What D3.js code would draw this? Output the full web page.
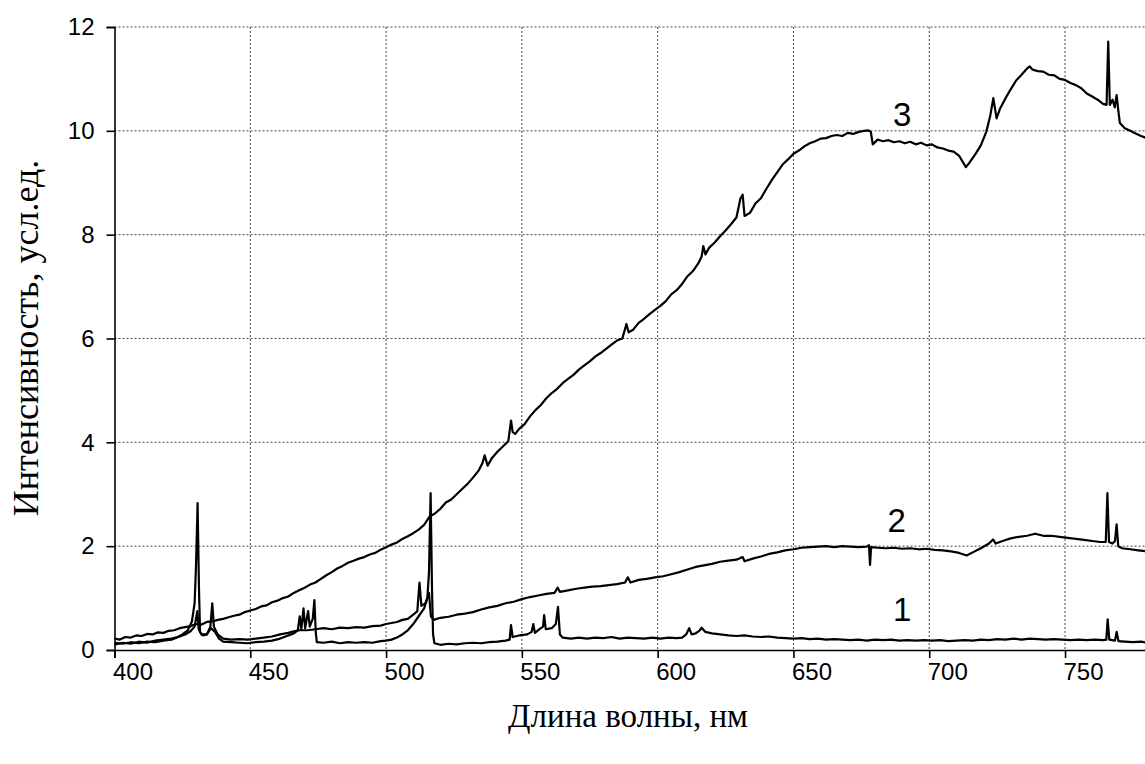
<!DOCTYPE html>
<html>
<head>
<meta charset="utf-8">
<script src="https://cdn.jsdelivr.net/npm/d3@7"></script>
<style>
  body { margin: 0; background: #fff; }
  .tick text { font-family: "Liberation Sans", Arial, sans-serif; font-size: 24px; fill: #000; }
  .grid line { stroke: #444; stroke-width: 1; stroke-dasharray: 2,2; }
  .axis-title { font-family: "Liberation Serif", "Times New Roman", serif; fill: #000; }
  .curve-label { font-family: "Liberation Sans", Arial, sans-serif; font-size: 33px; fill: #000; }
</style>
</head>
<body>
<svg id="chart" width="1145" height="764"></svg>
<script>
// spectra: [wavelength nm, intensity]
var curve1 = [
  [400,0.14],[403,0.12],[406,0.15],[409,0.13],[412,0.16],[415,0.15],[418,0.18],[421,0.2],[423,0.24],[425,0.3],
  [427,0.38],[428.5,0.55],[429.5,0.9],[430,1.6],[430.6,2.83],[431.1,1.2],[431.5,0.35],[432.5,0.28],[434,0.3],[435.5,0.42],
  [437,0.35],[438.5,0.22],[440,0.16],[443,0.15],[446,0.14],[449,0.13],[452,0.15],[455,0.16],[458,0.18],[461,0.22],
  [464,0.28],[466,0.32],[467.5,0.38],[468.2,0.65],[468.8,0.4],[469.6,0.8],[470.2,0.42],[471.3,0.75],[471.9,0.45],[473,0.6],
  [473.6,0.96],[474.1,0.35],[474.5,0.15],[477,0.14],[480,0.16],[483,0.13],[486,0.15],[489,0.14],[492,0.15],[495,0.14],
  [498,0.17],[500,0.18],[502,0.2],[504,0.24],[506,0.3],[508,0.38],[510,0.5],[512,0.65],[514,0.8],[515.2,1.0],
  [515.8,1.5],[516.4,3.02],[516.9,1.2],[517.3,0.3],[517.8,0.13],[520,0.1],[523,0.12],[526,0.11],[529,0.13],[532,0.14],
  [535,0.13],[538,0.15],[541,0.16],[544,0.18],[545.5,0.2],[546,0.48],[546.6,0.25],[549,0.28],[552,0.3],[553.6,0.35],
  [554.2,0.5],[554.8,0.33],[556.5,0.4],[557.8,0.45],[558.2,0.67],[558.8,0.4],[561,0.42],[562.5,0.5],[563.3,0.83],[564,0.3],
  [565,0.24],[568,0.22],[571,0.24],[574,0.22],[577,0.24],[580,0.23],[583,0.25],[586,0.22],[589,0.24],[592,0.23],
  [595,0.22],[598,0.24],[601,0.22],[604,0.24],[607,0.23],[609,0.24],[610.5,0.3],[611.6,0.42],[612.5,0.3],[614,0.32],
  [615.5,0.38],[616.2,0.43],[617.5,0.35],[620,0.32],[623,0.3],[626,0.28],[629,0.27],[632,0.28],[635,0.26],[638,0.25],
  [641,0.26],[644,0.24],[647,0.23],[650,0.22],[653,0.23],[656,0.21],[659,0.22],[662,0.2],[665,0.21],[668,0.2],
  [671,0.19],[674,0.2],[677,0.18],[680,0.2],[683,0.19],[686,0.2],[689,0.18],[692,0.19],[695,0.18],[698,0.19],
  [701,0.18],[704,0.19],[707,0.17],[710,0.18],[713,0.19],[716,0.18],[719,0.2],[722,0.19],[725,0.21],[728,0.2],
  [731,0.22],[734,0.2],[737,0.22],[740,0.21],[743,0.2],[746,0.21],[749,0.2],[752,0.19],[755,0.2],[758,0.19],
  [761,0.2],[764,0.19],[765.2,0.2],[765.7,0.59],[766.3,0.2],[768.4,0.18],[769,0.35],[769.7,0.17],[772,0.16],[775,0.15],
  [778,0.16],[780,0.14]
];

var curve2 = [
  [400,0.1],[403,0.14],[406,0.12],[409,0.16],[412,0.14],[415,0.18],[418,0.2],[421,0.22],[424,0.26],[426,0.3],
  [428,0.36],[429.5,0.45],[430.5,0.75],[431,0.4],[432,0.3],[434,0.3],[435.3,0.45],[436,0.9],[436.6,0.45],[438,0.3],
  [440,0.22],[443,0.2],[446,0.21],[449,0.2],[452,0.22],[455,0.24],[458,0.26],[461,0.3],[464,0.33],[466,0.36],
  [468,0.38],[471,0.38],[474,0.4],[477,0.42],[480,0.4],[483,0.43],[486,0.42],[489,0.44],[492,0.43],[495,0.46],
  [498,0.47],[500,0.5],[502,0.52],[504,0.54],[506,0.58],[508,0.6],[510,0.68],[511.5,0.75],[512.3,1.3],[513,0.85],
  [514.5,0.9],[515.8,1.1],[516.5,0.65],[517.5,0.58],[520,0.62],[523,0.64],[526,0.68],[529,0.7],[532,0.73],[535,0.78],
  [538,0.82],[541,0.85],[544,0.9],[547,0.93],[550,0.98],[553,1.02],[556,1.05],[559,1.08],[562,1.1],[563.2,1.2],
  [564,1.12],[567,1.15],[570,1.18],[573,1.2],[576,1.22],[579,1.23],[582,1.25],[585,1.27],[588,1.3],[589,1.4],
  [590,1.3],[593,1.35],[596,1.37],[599,1.4],[602,1.42],[605,1.46],[608,1.5],[611,1.55],[614,1.6],[617,1.63],
  [620,1.66],[623,1.7],[626,1.72],[629,1.74],[631.3,1.79],[632,1.71],[635,1.76],[638,1.8],[641,1.85],[644,1.88],
  [647,1.92],[650,1.94],[653,1.97],[656,1.98],[659,1.99],[662,2.0],[665,1.98],[668,2.0],[671,1.99],[674,1.98],
  [677,1.99],[677.8,2.02],[678.2,1.64],[678.6,1.98],[681,1.97],[684,1.96],[687,1.97],[690,1.95],[693,1.96],[696,1.94],
  [699,1.95],[702,1.93],[705,1.92],[708,1.9],[711,1.87],[713.8,1.82],[716,1.88],[719,1.96],[722,2.05],[723.5,2.13],
  [724.5,2.05],[727,2.1],[730,2.15],[733,2.18],[736,2.2],[739,2.24],[742,2.2],[745,2.2],[748,2.18],[751,2.16],
  [754,2.14],[757,2.12],[760,2.1],[763,2.08],[765,2.08],[765.6,3.02],[766.2,2.08],[767.5,2.05],[768.4,2.1],[769,2.42],
  [769.6,2.0],[771,1.96],[774,1.94],[777,1.92],[780,1.9]
];

var curve3 = [
  [400,0.22],[402,0.2],[404,0.25],[406,0.24],[408,0.28],[410,0.27],[412,0.31],[414,0.3],[416,0.34],[418,0.33],
  [420,0.37],[422,0.38],[424,0.42],[426,0.44],[428,0.46],[430,0.5],[432,0.49],[434,0.54],[436,0.55],[438,0.58],
  [440,0.6],[442,0.63],[444,0.66],[446,0.68],[448,0.73],[450,0.76],[452,0.79],[454,0.84],[456,0.86],[458,0.92],
  [460,0.95],[462,1.0],[464,1.03],[466,1.1],[468,1.15],[470,1.2],[472,1.26],[474,1.3],[476,1.37],[478,1.44],
  [480,1.5],[482,1.57],[484,1.62],[486,1.68],[488,1.72],[490,1.76],[492,1.79],[494,1.84],[496,1.87],[498,1.93],
  [500,1.98],[502,2.03],[504,2.07],[506,2.14],[508,2.19],[510,2.25],[512,2.32],[514,2.41],[516,2.57],[518,2.63],
  [520,2.72],[522,2.84],[524,2.9],[526,3.0],[528,3.1],[530,3.2],[532,3.32],[534,3.45],[535.5,3.6],[536.3,3.75],
  [537.4,3.55],[539,3.7],[541,3.82],[543,3.92],[545,4.02],[546,4.42],[546.6,4.2],[547.5,4.16],[549,4.26],[551,4.35],
  [553,4.5],[555,4.62],[557,4.72],[559,4.85],[561,4.95],[563,5.03],[565,5.14],[567,5.22],[569,5.3],[571,5.4],
  [573,5.48],[575,5.56],[577,5.65],[579,5.72],[581,5.8],[583,5.88],[585,5.96],[587,6.0],[588.5,6.28],[589.3,6.12],
  [591,6.17],[593,6.3],[595,6.38],[597,6.47],[599,6.55],[601,6.63],[603,6.72],[605,6.85],[607,6.93],[609,7.05],
  [611,7.2],[613,7.3],[615,7.45],[616.2,7.58],[616.8,7.78],[617.6,7.62],[619,7.75],[621,7.85],[623,7.97],[625,8.08],
  [627,8.2],[629,8.33],[630.5,8.7],[631.3,8.77],[632,8.36],[634,8.42],[636,8.6],[638,8.7],[640,8.88],[642,9.05],
  [644,9.2],[646,9.35],[648,9.45],[650,9.56],[652,9.62],[654,9.7],[656,9.76],[658,9.8],[660,9.85],[662,9.86],
  [664,9.9],[666,9.92],[668,9.9],[670,9.96],[672,9.94],[674,9.98],[676,10.0],[677.5,10.01],[678.5,9.98],[679.2,9.74],
  [681,9.83],[683,9.8],[685,9.82],[687,9.78],[689,9.8],[691,9.76],[693,9.79],[695,9.74],[697,9.77],[699,9.72],
  [701,9.74],[703,9.68],[705,9.66],[707,9.62],[709,9.6],[711,9.52],[713.5,9.3],[715,9.4],[717,9.55],[719,9.72],
  [721,9.98],[722.5,10.3],[723.6,10.63],[724.8,10.24],[726,10.42],[728,10.62],[730,10.8],[732,10.97],[734,11.08],[736,11.2],
  [737,11.24],[738,11.18],[740,11.15],[742,11.14],[744,11.08],[746,11.07],[748,11.0],[750,10.98],[752,10.92],[754,10.88],
  [756,10.82],[758,10.72],[760,10.66],[762,10.6],[764,10.52],[765.3,10.5],[765.9,11.72],[766.5,10.5],[767.5,10.6],[768.3,10.45],
  [769,10.69],[769.6,10.4],[770.2,10.15],[772,10.05],[774,10.0],[776,9.95],[778,9.9],[780,9.86]
];

var xTicks = [400, 450, 500, 550, 600, 650, 700, 750];
var yTicks = [0, 2, 4, 6, 8, 10, 12];
// curve numbers: [label, wavelength, intensity]
var curveLabels = [["1", 690, 0.56], ["2", 688, 2.27], ["3", 690, 10.1]];

var svg = d3.select('#chart');
var mLeft = 114.5, mRight = 1146.5, mTop = 27, mBottom = 650;

var x = d3.scaleLinear().domain([400, 780]).range([mLeft, mRight]);
var y = d3.scaleLinear().domain([0, 12]).range([mBottom, mTop]);

// grid
svg.append('g')
    .attr('class', 'grid')
    .selectAll('line')
    .data(yTicks.filter(function(d) { return d > 0; }))
    .enter()
    .append('line')
    .attr('x1', mLeft).attr('x2', mRight)
    .attr('y1', function(d) { return y(d); })
    .attr('y2', function(d) { return y(d); });
svg.append('g')
    .attr('class', 'grid')
    .selectAll('line')
    .data(xTicks.filter(function(d) { return d > 400; }))
    .enter()
    .append('line')
    .attr('y1', mTop).attr('y2', mBottom)
    .attr('x1', function(d) { return x(d); })
    .attr('x2', function(d) { return x(d); });

// axes
var xAxis = svg.append('g')
    .attr('transform', 'translate(0,' + mBottom + ')')
    .call(d3.axisBottom(x).tickValues(xTicks).tickSize(8).tickPadding(5).tickFormat(d3.format('d')));
var yAxis = svg.append('g')
    .attr('transform', 'translate(' + mLeft + ',0)')
    .call(d3.axisLeft(y).tickValues(yTicks).tickSize(8).tickPadding(12).tickFormat(d3.format('d')));
[xAxis, yAxis].forEach(function(a) {
    a.select('.domain').attr('stroke', '#000').attr('stroke-width', 1.6);
    a.selectAll('.tick line').attr('stroke', '#000').attr('stroke-width', 1.6);
});
// labels sit a little right of their ticks, as in the original
xAxis.selectAll('.tick text').attr('x', 18);

// curves
svg.append('clipPath').attr('id', 'clip')
    .append('rect').attr('x', mLeft).attr('y', 0).attr('width', mRight - mLeft).attr('height', mBottom);

var line = d3.line()
    .x(function(d) { return x(d[0]); })
    .y(function(d) { return y(d[1]); });

svg.append('g')
    .attr('clip-path', 'url(#clip)')
    .selectAll('path')
    .data([curve1, curve2, curve3])
    .enter()
    .append('path')
    .attr('fill', 'none')
    .attr('stroke', '#000')
    .attr('stroke-width', 2.2)
    .attr('stroke-linejoin', 'round')
    .attr('d', line);

svg.selectAll('text.curve-label')
    .data(curveLabels)
    .enter()
    .append('text')
    .attr('class', 'curve-label')
    .attr('text-anchor', 'middle')
    .attr('x', function(d) { return x(d[1]); })
    .attr('y', function(d) { return y(d[2]); })
    .text(function(d) { return d[0]; });

// axis titles
svg.append('text')
    .attr('class', 'axis-title')
    .attr('text-anchor', 'middle')
    .style('font-size', '33px')
    .attr('x', 628).attr('y', 727)
    .text('Длина волны, нм');
svg.append('text')
    .attr('class', 'axis-title')
    .attr('text-anchor', 'middle')
    .style('font-size', '36px')
    .attr('transform', 'translate(38,338) rotate(-90)')
    .text('Интенсивность, усл.ед.');
</script>
</body>
</html>
